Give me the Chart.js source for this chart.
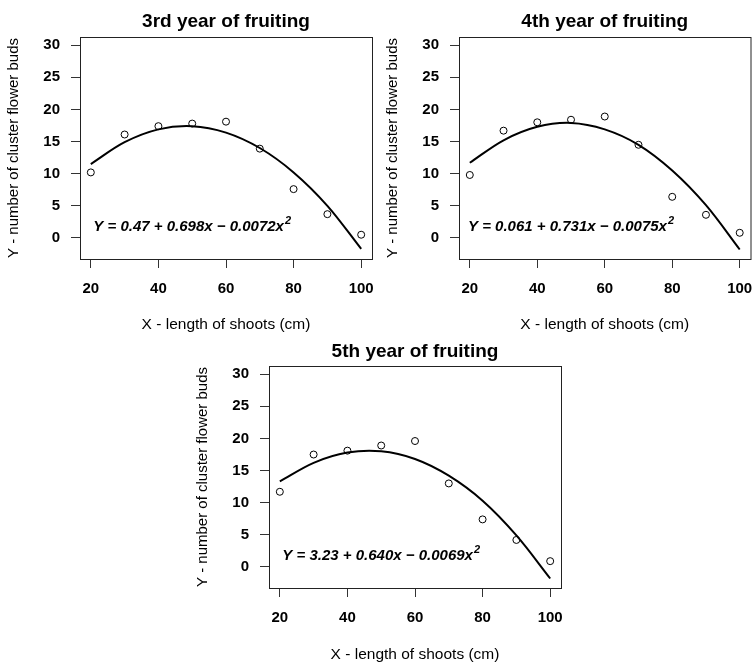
<!DOCTYPE html>
<html>
<head>
<meta charset="utf-8">
<script src="https://cdn.jsdelivr.net/npm/chart.js@4/dist/chart.umd.min.js"></script>
<style>
html,body{margin:0;padding:0;background:#fff;}
body{width:755px;height:664px;position:relative;overflow:hidden;}
canvas{position:absolute;}
</style>
</head>
<body>
<canvas id="c1" width="377" height="345" style="left:0px;top:0px;width:377px;height:345px"></canvas>
<canvas id="c2" width="378" height="345" style="left:377px;top:0px;width:378px;height:345px"></canvas>
<canvas id="c3" width="377" height="334" style="left:190px;top:330px;width:377px;height:334px"></canvas>
<script>
// ---- data ----
const shootLength = [20, 30, 40, 50, 60, 70, 80, 90, 100];
const buds3rd = [10.2, 16.1, 17.4, 17.8, 18.1, 13.9, 7.6, 3.7, 0.5];
const buds4th = [9.8, 16.7, 18.0, 18.4, 18.9, 14.5, 6.4, 3.6, 0.8];
const buds5th = [11.7, 17.5, 18.1, 18.9, 19.6, 13.0, 7.4, 4.2, 0.9];
const fit3rd = [11.5, 14.9, 16.9, 17.4, 16.4, 14.0, 10.2, 5.0, -1.7];
const fit4th = [11.7, 15.2, 17.3, 17.9, 16.9, 14.5, 10.5, 5.1, -1.8];
const fit5th = [13.3, 16.2, 17.8, 18.0, 16.8, 14.2, 10.3, 4.9, -1.8];
const titles = ['3rd year of fruiting', '4th year of fruiting', '5th year of fruiting'];
const equations = ['Y = 0.47 + 0.698x \u2212 0.0072x', 'Y = 0.061 + 0.731x \u2212 0.0075x', 'Y = 3.23 + 0.640x \u2212 0.0069x'];
const eqSuperscript = '2';
const xTickValues = [20, 40, 60, 80, 100];
const yTickValues = [0, 5, 10, 15, 20, 25, 30];
const xAxisTitle = 'X - length of shoots (cm)';
const yAxisTitle = 'Y - number of cluster flower buds';

const FONT = "'Liberation Sans', Arial, Helvetica, sans-serif";
Chart.defaults.font.family = FONT;
Chart.defaults.color = '#000';

const boxPlugin = {
  id: 'plotBox',
  afterDraw(chart) {
    const {ctx, chartArea: a} = chart;
    ctx.save();
    ctx.strokeStyle = '#222';
    ctx.lineWidth = 1;
    ctx.strokeRect(a.left + 0.5, a.top + 0.5, a.right - a.left, a.bottom - a.top);
    ctx.restore();
  }
};

const eqPlugin = {
  id: 'equation',
  afterDatasetsDraw(chart, args, opts) {
    const {ctx, scales} = chart;
    const px = scales.x.getPixelForValue(opts.x);
    const py = scales.y.getPixelForValue(opts.y);
    ctx.save();
    ctx.fillStyle = '#000';
    ctx.textBaseline = 'middle';
    ctx.textAlign = 'left';
    const mainFont = 'italic bold 15px ' + FONT;
    const supFont = 'italic bold 11px ' + FONT;
    ctx.font = mainFont;
    const w1 = ctx.measureText(opts.text).width;
    ctx.font = supFont;
    const w2 = ctx.measureText(opts.sup).width;
    const x0 = px - (w1 + w2 + 1) / 2;
    ctx.font = mainFont;
    ctx.fillText(opts.text, x0, py);
    ctx.font = supFont;
    ctx.fillText(opts.sup, x0 + w1 + 1, py - 6);
    ctx.restore();
  }
};

function makeChart(id, idx, pts, fit, g) {
  const ptsData = shootLength.map((x, i) => ({x: x, y: pts[i]}));
  const fitData = shootLength.map((x, i) => ({x: x, y: fit[i]}));
  return new Chart(document.getElementById(id), {
    type: 'scatter',
    data: {
      datasets: [
        {data: ptsData, showLine: false, pointRadius: 3.5, pointHoverRadius: 3.5,
         pointBorderWidth: 1, pointBorderColor: '#000', pointBackgroundColor: 'rgba(0,0,0,0)', pointStyle: 'circle'},
        {data: fitData, showLine: true, borderColor: '#000', borderWidth: 2, pointRadius: 0,
         tension: 0.34, fill: false}
      ]
    },
    options: {
      responsive: false,
      animation: false,
      events: [],
      layout: {padding: {left: 0, top: 0, right: g.padRight, bottom: 0}},
      plugins: {
        legend: {display: false},
        tooltip: {enabled: false},
        title: {display: true, text: titles[idx], fullSize: false, color: '#000',
          font: {size: 19, weight: 'bold', lineHeight: 1.2},
          padding: {top: g.titleTop, bottom: g.titleBottom}},
        equation: {text: equations[idx], sup: eqSuperscript, x: 50, y: 1.7}
      },
      scales: {
        x: {
          type: 'linear', min: 16.8, max: 103.2,
          afterBuildTicks(s) { s.ticks = xTickValues.map(v => ({value: v})); },
          ticks: {font: {size: 15, weight: 'bold'}, padding: 12, color: '#000', maxRotation: 0},
          grid: {display: true, drawOnChartArea: false, drawTicks: true, tickLength: 9, color: '#333', lineWidth: 1},
          border: {display: true, color: '#222'},
          title: {display: true, text: xAxisTitle, color: '#000', font: {size: 15.5, lineHeight: 1.2},
            padding: {top: 0, bottom: g.xTitleBottom}},
          afterFit(s) { s.height = g.xH; s.paddingLeft = 0; s.paddingRight = 0; s.paddingTop = 0; s.paddingBottom = 0; }
        },
        y: {
          type: 'linear', min: -3.28, max: 31.28,
          afterBuildTicks(s) { s.ticks = yTickValues.map(v => ({value: v})); },
          ticks: {font: {size: 15, weight: 'bold'}, padding: 11, color: '#000'},
          grid: {display: true, drawOnChartArea: false, drawTicks: true, tickLength: 9, color: '#333', lineWidth: 1},
          border: {display: true, color: '#222'},
          title: {display: true, text: yAxisTitle, color: '#000', font: {size: 15, lineHeight: 1.2},
            padding: {top: g.yW - 66.5 - 9, bottom: 0}},
          afterFit(s) { s.width = g.yW; s.paddingLeft = 0; s.paddingRight = 0; s.paddingTop = 0; s.paddingBottom = 0; }
        }
      }
    },
    plugins: [boxPlugin, eqPlugin]
  });
}

makeChart('c1', 0, buds3rd, fit3rd, {yW: 80, padRight: 5, titleTop: 10.6, titleBottom: 3.6, xH: 86, xTitleBottom: 10.5});
makeChart('c2', 1, buds4th, fit4th, {yW: 82, padRight: 4, titleTop: 10.6, titleBottom: 3.6, xH: 86, xTitleBottom: 10.5});
makeChart('c3', 2, buds5th, fit5th, {yW: 79, padRight: 6, titleTop: 10.6, titleBottom: 2.6, xH: 76, xTitleBottom: 0});
</script>
</body>
</html>
